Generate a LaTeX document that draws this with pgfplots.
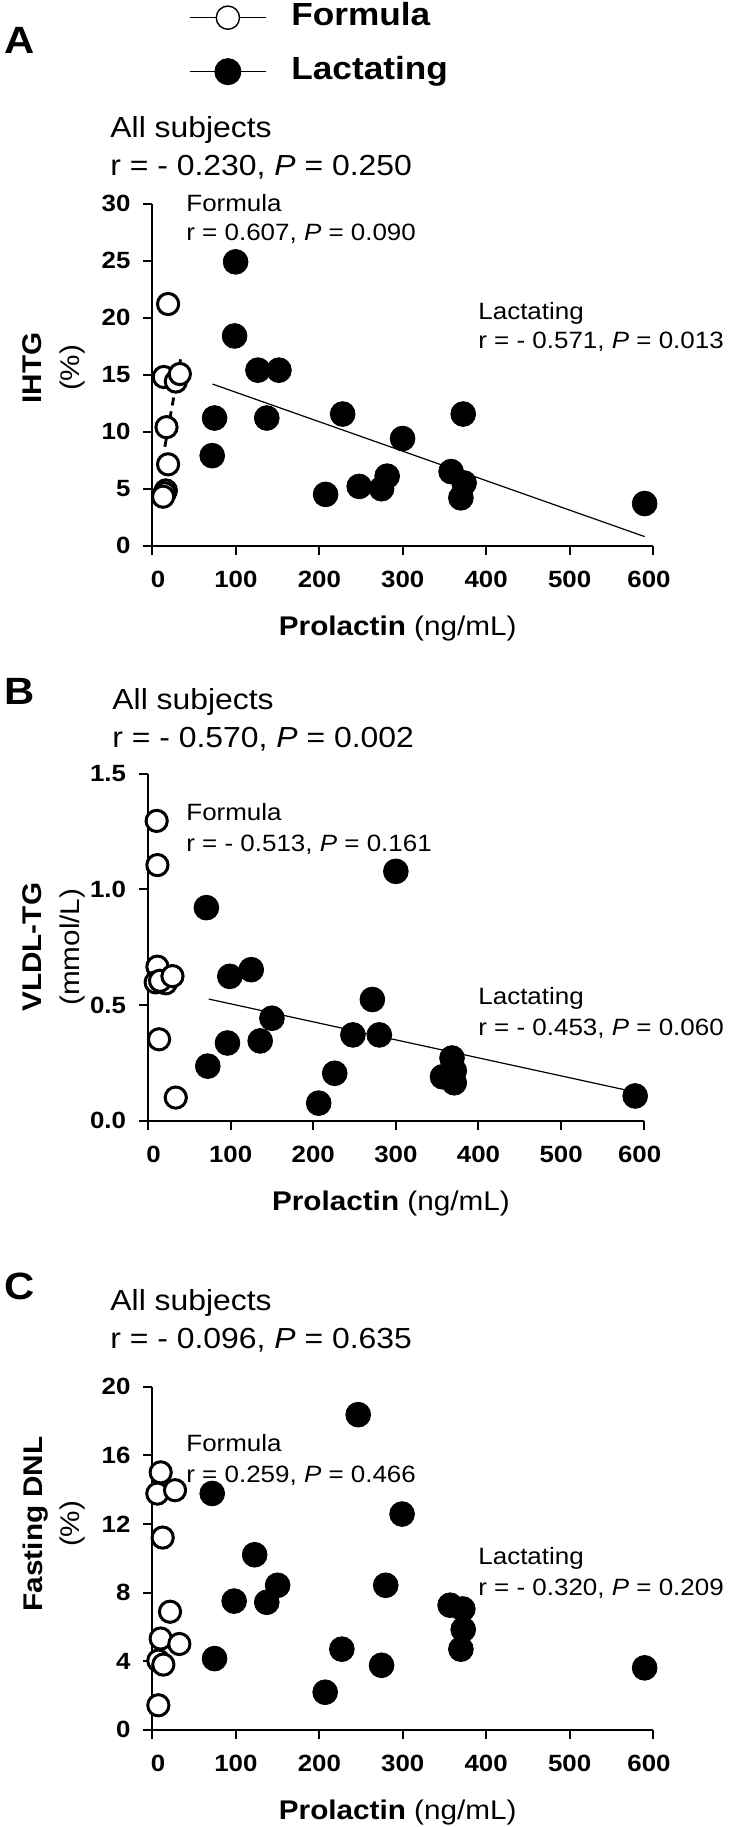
\documentclass[border=0pt]{standalone}
\usepackage{pgfplots}
\pgfplotsset{compat=1.18}
\usepackage{fontspec}
\setmainfont{Liberation Sans}[FakeStretch=1.1]
\newcommand{\fs}[1]{\fontsize{#1}{#1}\selectfont}
\pgfplotsset{
  panel/.style={
    scale only axis,
    axis lines=left,
    axis line style={-, line width=1pt},
    every tick/.style={black, line width=1pt},
    tick align=outside,
    major tick length=4.5pt,
    xmin=0, xmax=600,
    xtick={0,100,200,300,400,500,600},
    xticklabels={\kern5.5pt0,100,200,300,400,500,600\kern4pt},
    clip=false,
    ticklabel style={font=\fs{11.75}\bfseries},
    yticklabel style={anchor=east, inner sep=0pt, xshift=-6.3pt},
    xticklabel style={anchor=base, inner sep=0pt, yshift=-16.15pt},
    xlabel={\textbf{Prolactin} (ng/mL)},
    every axis x label/.style={at={(axis description cs:0.49,0)}, anchor=base, yshift=-45pt, font=\fs{13.5}},
    every axis y label/.style={at={(axis description cs:-0.197,0.52)}, rotate=90, anchor=center, align=center, font=\fontsize{13.5}{18.85}\selectfont},
  },
  formula/.style={only marks, mark=*, mark size=5.3pt, mark options={fill=white, draw=black, line width=1.5pt}, forget plot},
  lact/.style={only marks, mark=*, mark size=6.2pt, mark options={fill=black, draw=black, line width=0.4pt}, forget plot},
  regline/.style={black, line width=0.6pt, forget plot},
}
\begin{document}
\begin{tikzpicture}
\useasboundingbox (0pt,0pt) rectangle (364.5pt,-913.5pt);
% ---------------- Panel A ----------------
\begin{axis}[panel,
  at={(76.25pt,-272.85pt)}, anchor=south west,
  width=250.25pt, height=171pt,
  ymin=0, ymax=30,
  ytick={0,5,10,15,20,25,30}, yticklabels={0,5,10,15,20,25,30},
  ylabel={\textbf{IHTG}\\(\%)},
  legend style={at={(axis description cs:0.0729,1.589)}, anchor=north west, draw=none, fill=none,
    inner sep=0pt, row sep=12pt, column sep=12.5pt, font=\fs{16}\bfseries,
    nodes={inner sep=0pt, text height=11.5pt, text depth=3.5pt}},
  legend cell align=left,
  legend image code/.code={\draw[mark repeat=2,mark phase=2,#1] plot coordinates {(0pt,0pt)(19pt,0pt)(38pt,0pt)};},
]
\addlegendimage{black, line width=0.5pt, mark=*, mark size=5.8pt, mark options={fill=white, draw=black, line width=0.7pt}}
\addlegendentry{Formula}
\addlegendimage{black, line width=0.5pt, mark=*, mark size=6.5pt, mark options={fill=black, draw=black}}
\addlegendentry{Lactating}
\addplot[regline] coordinates {(72,14.18) (590,0.8)};
\addplot[black, line width=1.4pt, dash pattern=on 4pt off 3pt, forget plot] coordinates {(14.8,8.68) (33.6,16.35)};
\addplot[lact] coordinates {
(99.6,24.9) (98.4,18.4) (126.4,15.4) (151.6,15.4) (74.4,11.2) (137,11.2)
(71.6,7.9) (228,11.55) (299.8,9.4) (372.5,11.55) (358,6.5) (373.6,5.5)
(369.7,4.2) (207.5,4.5) (247.8,5.2) (274.6,5.0) (281.3,6.1) (590,3.7)};
\addplot[formula] coordinates {
(18.7,21.2) (13.6,14.8) (28,14.4) (32.8,15.06) (16.8,10.4) (18.7,7.14)
(16,4.85) (14.5,4.6) (12.7,4.3)};
\end{axis}
% ---------------- Panel B ----------------
\begin{axis}[panel,
  at={(74pt,-560.35pt)}, anchor=south west,
  width=247.85pt, height=173.5pt,
  ymin=0, ymax=1.5,
  ytick={0,0.5,1,1.5}, yticklabels={0.0,0.5,1.0,1.5},
  every axis y label/.append style={at={(axis description cs:-0.19,0.5)}},
  ylabel={\textbf{VLDL-TG}\\(mmol/L)},
]
\addplot[regline] coordinates {(73.4,0.526) (589.7,0.124)};
\addplot[lact] coordinates {
(300,1.078) (70.7,0.921) (125,0.653) (99,0.624) (271.6,0.524) (150,0.443)
(248,0.371) (280,0.371) (96.2,0.336) (135.8,0.345) (72.4,0.236) (226,0.205)
(206.6,0.076) (368,0.271) (370.7,0.216) (356.5,0.19) (370.7,0.164) (589.7,0.107)};
\addplot[formula] coordinates {
(10.5,1.296) (11.4,1.105) (11.4,0.666) (9.3,0.598) (21.5,0.594) (14.6,0.605)
(29.6,0.625) (13.4,0.352) (33.6,0.10)};
\end{axis}
% ---------------- Panel C ----------------
\begin{axis}[panel,
  at={(76.25pt,-864.9pt)}, anchor=south west,
  width=250.25pt, height=171.65pt,
  ymin=0, ymax=20,
  ytick={0,4,8,12,16,20}, yticklabels={0,4,8,12,16,20},
  every axis y label/.append style={at={(axis description cs:-0.197,0.6)}},
  ylabel={\textbf{Fasting DNL}\\(\%)},
]
\addplot[lact] coordinates {
(246.6,18.36) (71.6,13.77) (299.2,12.57) (122.5,10.2) (150,8.42) (279.6,8.42)
(97.9,7.5) (137,7.43) (356.8,7.26) (372,7.04) (372.5,5.84) (369.7,4.70)
(227,4.70) (74.4,4.15) (274.6,3.76) (207,2.19) (590,3.61)};
\addplot[formula] coordinates {
(9.8,15.0) (5.8,13.76) (27,13.96) (12.2,11.2) (21,6.88) (9.8,5.32)
(32.2,5.0) (7,4.03) (13,3.8) (7,1.43)};
\end{axis}
% ---------------- Texts ----------------
\begin{scope}[every node/.style={anchor=base west, inner sep=0pt}]
\node[font=\fs{19}\bfseries] at (2pt,-26.5pt) {A};
\node[font=\fs{14.5}] at (55pt,-68.65pt) {All subjects};
\node[font=\fs{14.5}] at (55pt,-87.5pt) {r = - 0.230, \textit{P} = 0.250};
\node[font=\fs{11.8}] at (93pt,-105.5pt) {Formula};
\node[font=\fs{11.8}] at (93pt,-120pt) {r = 0.607, \textit{P} = 0.090};
\node[font=\fs{11.8}] at (239pt,-159.5pt) {Lactating};
\node[font=\fs{11.8}] at (239pt,-174pt) {r = - 0.571, \textit{P} = 0.013};
%
\node[font=\fs{19}\bfseries] at (2pt,-352pt) {B};
\node[font=\fs{14.5}] at (56pt,-354.5pt) {All subjects};
\node[font=\fs{14.5}] at (56pt,-373.5pt) {r = - 0.570, \textit{P} = 0.002};
\node[font=\fs{11.8}] at (93pt,-410pt) {Formula};
\node[font=\fs{11.8}] at (93pt,-425.5pt) {r = - 0.513, \textit{P} = 0.161};
\node[font=\fs{11.8}] at (239pt,-502pt) {Lactating};
\node[font=\fs{11.8}] at (239pt,-517.5pt) {r = - 0.453, \textit{P} = 0.060};
%
\node[font=\fs{19}\bfseries] at (2pt,-649.5pt) {C};
\node[font=\fs{14.5}] at (55pt,-655pt) {All subjects};
\node[font=\fs{14.5}] at (55pt,-674pt) {r = - 0.096, \textit{P} = 0.635};
\node[font=\fs{11.8}] at (93pt,-725.5pt) {Formula};
\node[font=\fs{11.8}] at (93pt,-741pt) {r = 0.259, \textit{P} = 0.466};
\node[font=\fs{11.8}] at (239pt,-782pt) {Lactating};
\node[font=\fs{11.8}] at (239pt,-797.5pt) {r = - 0.320, \textit{P} = 0.209};
\end{scope}
\end{tikzpicture}
\end{document}
